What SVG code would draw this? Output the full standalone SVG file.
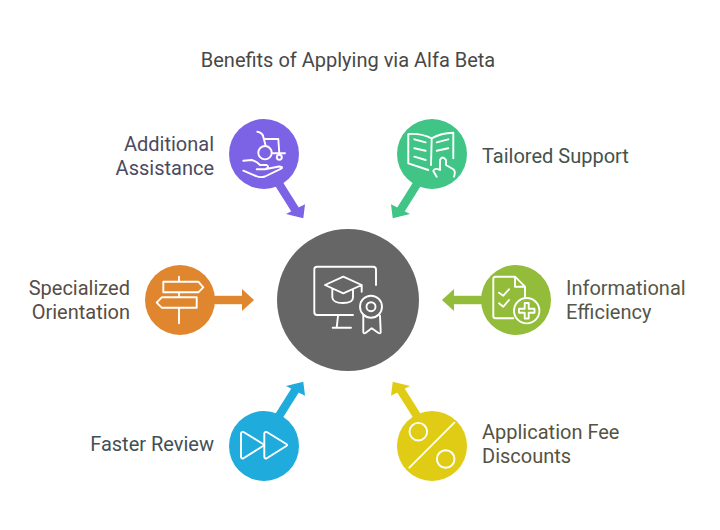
<svg xmlns="http://www.w3.org/2000/svg" width="720" height="530" viewBox="0 0 720 530">
<style>
text{font-family:Roboto,"Liberation Sans",sans-serif;font-size:20px}
.i{fill:none;stroke:#fff;stroke-width:1.900;stroke-linecap:round;stroke-linejoin:round}
.s{fill:none;stroke-width:8.400}
</style>
<rect width="720" height="530" fill="#fff"/>
<text x="348" y="67" text-anchor="middle" fill="#484848">Benefits of Applying via Alfa Beta</text>
<g id="connectors">
<path d="M279 184L296 211" stroke="#7c63e6" class="s"/><path d="M303.300 218.300L286 214L305 204.300Z" fill="#7c63e6"/>
<path d="M417 184L400 211" stroke="#41c587" class="s"/><path d="M392.700 218.300L391 204.300L410 214Z" fill="#41c587"/>
<path d="M214 300H243" stroke="#e0862f" class="s"/><path d="M254 300L242 289V311Z" fill="#e0862f"/>
<path d="M482 300H453" stroke="#92bc39" class="s"/><path d="M442 300L454 289V311Z" fill="#92bc39"/>
<path d="M279 416L296 389" stroke="#1fabdc" class="s"/><path d="M303.300 381.700L286 386L305 395.700Z" fill="#1fabdc"/>
<path d="M417 416L400 389" stroke="#e0cc14" class="s"/><path d="M392.700 381.700L391 395.700L410 386Z" fill="#e0cc14"/>
</g>
<g id="center">
<circle cx="348" cy="300" r="71" fill="#666"/>
<path class="i" d="M353 315H317Q314.300 315 314.300 312V269.500Q314.300 266.700 317 266.700H373Q376 266.700 376 269.500V285"/>
<path class="i" d="M338 316L336.700 327.700M332.700 327.700H351"/>
<path class="i" d="M343.300 276.700L325 285L343.300 293.300L361.700 285ZM332.300 289.500V297.500Q333 303 343 303Q353 303 353 297.500V290M361.700 285V291.700"/>
<circle class="i" cx="371" cy="306.700" r="11"/><circle class="i" cx="371" cy="306.700" r="4.500"/>
<path class="i" d="M363.300 315.500V332Q363.500 334 365.500 333L371.700 328.300L378.500 333Q380.700 334 380.700 332L380 315.500"/>
</g>
<g id="additional-assistance">
<circle cx="264" cy="154" r="35" fill="#7c63e6"/>
<path class="i" d="M257.300 131.700Q262.500 132.500 263.300 136.700L265.700 146M264.300 139H278.300L279.300 153.300H272M279.300 153.300H285"/>
<circle class="i" cx="265" cy="152.700" r="6.700"/><circle class="i" cx="279.300" cy="157.300" r="2.500"/>
<path class="i" d="M243.300 160.700L251.700 160Q256 161 260 165H266.700Q270 167 265 169.300H256.700M265 169.300L279 166.500Q283 166.500 281.700 168.300L265 176.500Q260 178 256 176L243.300 170.700"/>
</g>
<g id="tailored-support">
<circle cx="432" cy="154" r="35" fill="#41c587"/>
<path class="i" d="M428.300 170L408.300 163.300V134Q421 133 431.700 138.300Q441 133 453.300 132.700V158.300M431.700 138.300L431 165"/>
<path class="i" d="M414.300 139.300L425.700 142.300M414.300 148.300L425.700 150.700M414.300 156.700L425.700 160M436.700 142.300L448.300 139.300M436.700 150.700L448.300 148.300"/>
<path class="i" d="M436.700 176.700L433.300 171Q435 167.300 440 170V160Q442.300 155 446 160V165L453.300 169.300Q456 171.700 454 176.700"/>
</g>
<g id="specialized-orientation">
<circle cx="180" cy="300" r="35" fill="#e0862f"/>
<path class="i" d="M179 276.700V281.700M179 292.300V297.300M179 307.700V323.300M163.300 281.700H198.300L203.300 287.300L198.300 292.300H163.300ZM196.700 297.300H161.700L156.700 302.700L161.700 307.700H196.700Z"/>
</g>
<g id="informational-efficiency">
<circle cx="516" cy="300" r="35" fill="#92bc39"/>
<path class="i" d="M515 276.700H495.500Q493.300 276.700 493.300 279V316Q493.300 318.300 495.500 318.300H513.300M515 276.700V286.700H525V296.700M515 276.700L525 286.700"/>
<path class="i" d="M499 292.700L503.300 295.700L509 289.300M499 303.300L503.300 306.700L509 300"/>
<circle class="i" cx="526.700" cy="310.700" r="12.700"/>
<path class="i" d="M524.700 303H528.700V308.700H534.500V312.700H528.700V318.500H524.700V312.700H519V308.700H524.700Z"/>
</g>
<g id="faster-review">
<circle cx="264" cy="446" r="35" fill="#1fabdc"/>
<path class="i" d="M243.500 432L263 444Q264.500 445 263 446L243.500 458.300Q241 459 241 456.500V434Q241 431.500 243.500 432Z"/>
<path class="i" d="M266.800 432L286.300 444Q287.800 445 286.300 446L266.800 458.300Q264.300 459 264.300 456.500V434Q264.300 431.500 266.800 432Z"/>
</g>
<g id="application-fee-discounts">
<circle cx="432" cy="446" r="35" fill="#e0cc14"/>
<circle class="i" cx="418.300" cy="431.700" r="8.800"/><circle class="i" cx="445.700" cy="459" r="8.800"/>
<path class="i" d="M454.300 422.700L409.300 467.700"/>
</g>
<text x="214" y="151" text-anchor="end" fill="#4c4a60">Additional</text>
<text x="214" y="175" text-anchor="end" fill="#4c4a60">Assistance</text>
<text x="482" y="163" fill="#44524c">Tailored Support</text>
<text x="130" y="295" text-anchor="end" fill="#574d45">Specialized</text>
<text x="130" y="319" text-anchor="end" fill="#574d45">Orientation</text>
<text x="566" y="295" fill="#54574a">Informational</text>
<text x="566" y="319" fill="#54574a">Efficiency</text>
<text x="214" y="451" text-anchor="end" fill="#434f55">Faster Review</text>
<text x="482" y="439" fill="#55533f">Application Fee</text>
<text x="482" y="463" fill="#55533f">Discounts</text>
</svg>
